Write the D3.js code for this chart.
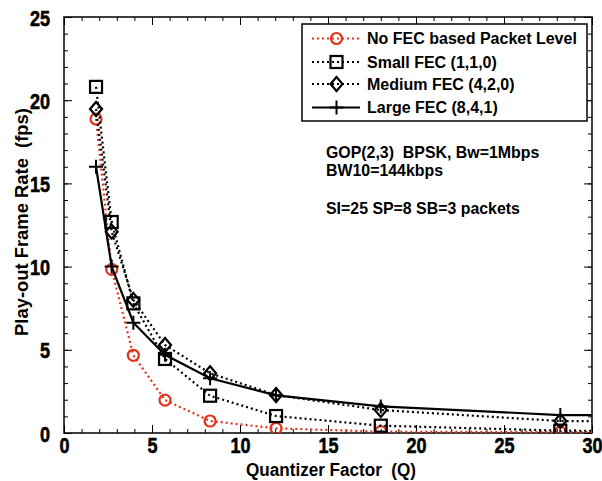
<!DOCTYPE html>
<html><head><meta charset="utf-8">
<script src="https://cdn.jsdelivr.net/npm/d3@7"></script>
<style>body{margin:0;background:#fff;} text{font-family:Arial,"Liberation Sans",sans-serif;font-weight:bold;white-space:pre;}</style>
</head><body><svg id="c" width="602" height="481"></svg>
<script>
const xNoFEC = [1.82, 2.71, 3.94, 5.74, 8.3, 12.05, 18.0, 28.2, 40];
const yNoFEC = [18.87, 9.83, 4.67, 1.98, 0.72, 0.28, 0.08, 0.05, 0.03];
const xSmall = [1.82, 2.71, 3.94, 5.74, 8.3, 12.05, 18.0, 28.2, 40];
const ySmall = [20.8, 12.68, 7.79, 4.45, 2.24, 1.02, 0.44, 0.14, 0.1];
const xMedium = [1.82, 2.71, 3.94, 5.74, 8.3, 12.05, 18.0, 28.2, 40];
const yMedium = [19.47, 12.1, 8.0, 5.29, 3.59, 2.28, 1.38, 0.72, 0.68];
const xLarge = [1.82, 2.71, 3.94, 5.74, 8.3, 12.05, 18.0, 28.2, 40];
const yLarge = [16.0, 10.0, 6.63, 4.7, 3.29, 2.26, 1.6, 1.08, 1.02];
const seriesNames = ["No FEC based Packet Level", "Small FEC (1,1,0)", "Medium FEC (4,2,0)", "Large FEC (8,4,1)"];
const xTicks = [0, 5, 10, 15, 20, 25, 30];
const yTicks = [0, 5, 10, 15, 20, 25];
const annot = ["GOP(2,3)  BPSK, Bw=1Mbps", "BW10=144kbps", "", "SI=25 SP=8 SB=3 packets"];

const svg = d3.select("#c");
const L = 64, R = 592, T = 17, B = 433;
const x = d3.scaleLinear().domain([0, 30]).range([L, R]);
const y = d3.scaleLinear().domain([0, 25]).range([B, T]);

svg.append("defs").append("clipPath").attr("id","clip").append("rect")
  .attr("x", L).attr("y", T-10).attr("width", R-L).attr("height", B-T+10);

// axes
const minorX = d3.range(0, 31, 1), minorY = d3.range(0, 26, 1);
const gAx = svg.append("g");
gAx.append("g").attr("transform",`translate(0,${B})`)
  .call(d3.axisBottom(x).tickValues(minorX).tickSize(-4).tickFormat(""));
const xb = gAx.append("g").attr("transform",`translate(0,${B})`)
  .call(d3.axisBottom(x).tickValues(xTicks).tickSize(-8).tickFormat(d3.format("d")));
gAx.append("g").attr("transform",`translate(0,${T})`)
  .call(d3.axisTop(x).tickValues(minorX).tickSize(-4).tickFormat(""));
gAx.append("g").attr("transform",`translate(0,${T})`)
  .call(d3.axisTop(x).tickValues(xTicks).tickSize(-8).tickFormat(""));
gAx.append("g").attr("transform",`translate(${L},0)`)
  .call(d3.axisLeft(y).tickValues(minorY).tickSize(-4).tickFormat(""));
const yl = gAx.append("g").attr("transform",`translate(${L},0)`)
  .call(d3.axisLeft(y).tickValues(yTicks).tickSize(-8).tickFormat(d3.format("d")));
gAx.append("g").attr("transform",`translate(${R},0)`)
  .call(d3.axisRight(y).tickValues(minorY).tickSize(-4).tickFormat(""));
gAx.append("g").attr("transform",`translate(${R},0)`)
  .call(d3.axisRight(y).tickValues(yTicks).tickSize(-8).tickFormat(""));
gAx.selectAll(".domain").remove();
gAx.selectAll("line").attr("stroke","#000").attr("stroke-width",1);
gAx.selectAll("text").attr("font-size",19).attr("fill","#000")
  .attr("stroke","#000").attr("stroke-width",0.5)
  .attr("font-family","Arial, 'Liberation Sans', sans-serif");
xb.selectAll("text").attr("y",0).attr("dy",null).attr("transform","translate(0,20) scale(0.95,1.2)");
yl.selectAll("text").attr("x",0).attr("dy",null).attr("text-anchor","end")
  .attr("transform","translate(-14,8) scale(0.95,1.2)");
svg.append("rect").attr("x",L).attr("y",T).attr("width",R-L).attr("height",B-T)
  .attr("fill","none").attr("stroke","#000").attr("stroke-width",1.5);

// titles
svg.append("text").attr("transform",`translate(${(L+R)/2+3},476) scale(0.95,1.05)`).attr("text-anchor","middle")
  .attr("font-size",18).text("Quantizer Factor  (Q)");
svg.append("text").attr("transform",`translate(28,222) rotate(-90)`).attr("text-anchor","middle")
  .attr("font-size",18.4).text("Play-out Frame Rate  (fps)");

const red = "#e2341d";
const series = [
  {xs: xNoFEC, ys: yNoFEC, color: red, dash: "2,3", marker: "circle"},
  {xs: xSmall, ys: ySmall, color: "#000", dash: "2,3", marker: "square"},
  {xs: xMedium, ys: yMedium, color: "#000", dash: "2,3", marker: "diamond"},
  {xs: xLarge, ys: yLarge, color: "#000", dash: null, marker: "plus"},
];

function drawMarker(g, type, cx, cy, color) {
  if (type === "circle") g.append("circle").attr("cx",cx).attr("cy",cy).attr("r",5.5)
    .attr("fill","none").attr("stroke",color).attr("stroke-width",2.2);
  else if (type === "square") g.append("rect").attr("x",cx-6).attr("y",cy-6).attr("width",12).attr("height",12)
    .attr("fill","none").attr("stroke",color).attr("stroke-width",2.2);
  else if (type === "diamond") g.append("path").attr("d",`M${cx},${cy-7}L${cx+6},${cy}L${cx},${cy+7}L${cx-6},${cy}Z`)
    .attr("fill","none").attr("stroke",color).attr("stroke-width",2.2);
  else if (type === "plus") g.append("path").attr("d",`M${cx-7},${cy}H${cx+7}M${cx},${cy-7}V${cy+7}`)
    .attr("fill","none").attr("stroke",color).attr("stroke-width",2);
}

const plot = svg.append("g").attr("clip-path","url(#clip)");
series.forEach(s => {
  const pts = s.xs.map((v,i)=>[v, s.ys[i]]);
  plot.append("path").attr("d", d3.line().x(d=>x(d[0])).y(d=>y(d[1]))(pts))
    .attr("fill","none").attr("stroke",s.color).attr("stroke-width",2.2)
    .attr("stroke-dasharray", s.dash);
  pts.forEach(p => drawMarker(plot, s.marker, x(p[0]), y(p[1]), s.color));
});

// legend
const lg = svg.append("g");
lg.append("rect").attr("x",302).attr("y",24).attr("width",285).attr("height",97)
  .attr("fill","#fff").attr("stroke","#000").attr("stroke-width",1.5);
const ly = [38.5, 62, 84, 107.5];
series.forEach((s,i) => {
  lg.append("line").attr("x1",312).attr("x2",360).attr("y1",ly[i]).attr("y2",ly[i])
    .attr("stroke",s.color).attr("stroke-width",2.2).attr("stroke-dasharray",s.dash);
  drawMarker(lg, s.marker, 336.5, ly[i], s.color);
  lg.append("text").attr("x",367).attr("y",ly[i]+5.5).attr("font-size",16).text(seriesNames[i]);
});

// annotation
const ay = [157.5, 176, 194.5, 213.5];
annot.forEach((t,i) => { if (t) svg.append("text").attr("x",326).attr("y",ay[i]).attr("font-size",15.9).text(t); });
</script></body></html>
